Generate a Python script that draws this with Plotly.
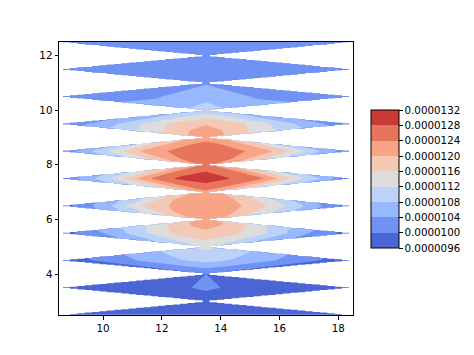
import numpy as np
import plotly.graph_objects as go

# ---- data (values in units of 1e-6) ----
# half-integer rows, sampled at these x positions
x_cols = [8.5, 10.0, 11.5, 12.5, 13.5, 14.5, 15.5, 17.0, 18.5]
y_rows = [2.5, 3.5, 4.5, 5.5, 6.5, 7.5, 8.5, 9.5, 10.5, 11.5, 12.5]
row_vals = [
    [9.65, 9.70, 9.75, 9.80, 9.85, 9.80, 9.75, 9.70, 9.65],      # 2.5
    [9.65, 9.75, 9.85, 9.95, 10.05, 9.95, 9.85, 9.75, 9.65],     # 3.5
    [9.70, 10.10, 10.50, 10.75, 10.95, 10.75, 10.50, 10.10, 9.70],  # 4.5
    [9.75, 10.40, 11.20, 11.70, 11.90, 11.65, 11.25, 10.40, 9.75],  # 5.5
    [9.75, 10.60, 11.75, 12.10, 12.35, 12.10, 11.65, 10.70, 9.75],  # 6.5
    [10.00, 11.00, 12.35, 12.85, 13.05, 12.75, 12.40, 11.10, 9.95],  # 7.5
    [10.00, 11.10, 12.20, 12.50, 12.65, 12.50, 12.20, 11.10, 10.00],  # 8.5
    [10.05, 10.60, 11.30, 11.75, 11.97, 11.75, 11.30, 10.60, 10.05],  # 9.5
    [10.05, 10.15, 10.30, 10.50, 10.70, 10.50, 10.30, 10.15, 10.05],  # 10.5
    [10.10, 10.15, 10.20, 10.25, 10.30, 10.25, 10.20, 10.15, 10.10],  # 11.5
    [10.10, 10.15, 10.20, 10.20, 10.25, 10.20, 10.20, 10.15, 10.10],  # 12.5
]
# integer rows: a single sample at the centre column
x_mid = 13.5
y_mid = [3, 4, 5, 6, 7, 8, 9, 10, 11, 12]
mid_vals = [9.85, 10.0, 11.3, 12.3, 12.3, 12.55, 12.3, 10.95, 10.35, 10.2]

levels = [9.6e-6, 1.0e-5, 1.04e-5, 1.08e-5, 1.12e-5, 1.16e-5, 1.20e-5, 1.24e-5, 1.28e-5, 1.32e-5]
level_labels = ["0.0000096", "0.0000100", "0.0000104", "0.0000108", "0.0000112",
                "0.0000116", "0.0000120", "0.0000124", "0.0000128", "0.0000132"]
band_colors = ["#4b65d5", "#7092f3", "#97b8ff", "#bcd2f7", "#dddddd",
               "#f3c8b4", "#f7a586", "#e7755c", "#c93936"]

# ---- triangle (fan) interpolation of the samples onto a fine grid ----
rows = np.array(row_vals) * 1e-6
mids = np.array(mid_vals) * 1e-6
step = 0.025
gx = np.arange(x_cols[0] - 0.1 + step / 2, x_cols[-1] + 0.1, step)
gy = np.arange(y_rows[0] - 0.1 + step / 2, y_rows[-1] + 0.1, step)
X, Y = np.meshgrid(gx, gy)
y0 = np.clip(np.floor(Y) + 0.5, y_rows[0], y_rows[-1])
ya = np.where(Y > y0, y0 + 0.5, y0 - 0.5)
t = np.abs(Y - y0) / 0.5
with np.errstate(divide="ignore", invalid="ignore"):
    xr = (X - x_mid * t) / (1 - t)
inside = (Y >= y_rows[0]) & (Y <= y_rows[-1])
valid = inside & (t < 1) & (xr >= x_cols[0]) & (xr <= x_cols[-1])
ri = np.clip(np.round(y0 - y_rows[0]).astype(int), 0, len(y_rows) - 1)
mi = np.clip(np.round(ya - y_mid[0]).astype(int), 0, len(mids) - 1)
prow = np.zeros_like(X)
for r in range(len(y_rows)):
    m = (ri == r) & valid
    prow[m] = np.interp(xr[m], x_cols, rows[r])
W = mids[mi]
Z = np.where(valid, (1 - t) * prow + t * W, 0.0)

# fill colour scale (background below first level = white)
nb = len(band_colors)
cs = [[0.0, "white"], [0.05, "white"]]
for k, c in enumerate(band_colors):
    lo = (k + 0.5) / 10
    hi = (k + 1.5) / 10 if k < nb - 1 else 1.0
    cs += [[lo, c], [hi, c]]

cb_scale = []
for k, c in enumerate(band_colors):
    cb_scale += [[k / nb, c], [(k + 1) / nb, c]]

fig = go.Figure()
fig.add_trace(go.Contour(
    x=gx, y=gy, z=Z,
    contours=dict(start=levels[0], end=levels[-1], size=4e-7, coloring="fill", showlines=False),
    line=dict(width=0, smoothing=0),
    colorscale=cs, showscale=False, hoverinfo="skip",
))
fig.add_trace(go.Scatter(
    x=[x_mid], y=[7.5], mode="markers", hoverinfo="skip", showlegend=False,
    marker=dict(size=1, opacity=0, color=[levels[4]], cmin=levels[0], cmax=levels[-1],
                colorscale=cb_scale, showscale=True,
                colorbar=dict(
                    thickness=28, thicknessmode="pixels", len=138, lenmode="pixels",
                    x=(371 - 59) / 294, xanchor="left",
                    y=(315 - 179) / 273, yanchor="middle",
                    xpad=0, ypad=0, outlinewidth=1, outlinecolor="black",
                    tickmode="array", tickvals=levels, ticktext=level_labels,
                    ticks="outside", ticklen=3.5, tickwidth=1, tickcolor="black",
                    tickfont=dict(size=10.3, family="DejaVu Sans", color="black"),
                )),
))

axis_common = dict(showline=True, mirror=True, linecolor="black", linewidth=1,
                   ticks="outside", ticklen=3.5, tickwidth=1, tickcolor="black",
                   showgrid=False, zeroline=False,
                   tickfont=dict(size=10.3, family="DejaVu Sans", color="black"))
fig.update_xaxes(range=[8.5, 18.5], tickvals=[10, 12, 14, 16, 18], **axis_common)
fig.update_yaxes(range=[2.5, 12.5], tickvals=[4, 6, 8, 10, 12], **axis_common)
fig.update_layout(
    width=474, height=355, autosize=False,
    margin=dict(l=59, r=121, t=42, b=40),
    paper_bgcolor="white", plot_bgcolor="white",
    showlegend=False,
)
fig.write_html("out.html")
